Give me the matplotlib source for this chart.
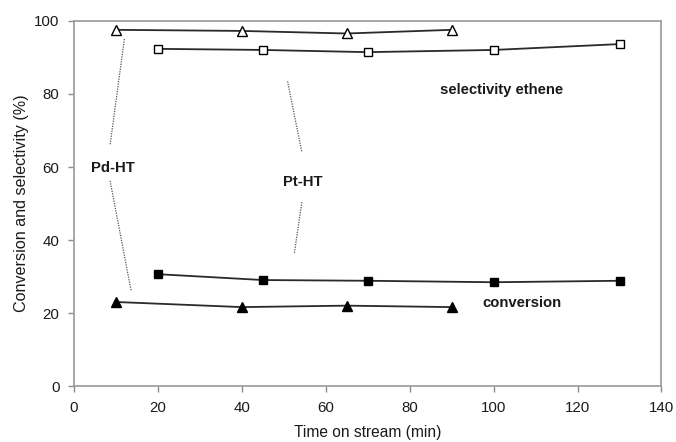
import matplotlib
matplotlib.use("Agg")
import matplotlib.pyplot as plt

# Time on stream (min) and measured values (%)
pd_time = [10, 40, 65, 90]
pd_selectivity = [97.5, 97.2, 96.5, 97.5]
pd_conversion = [23.1, 21.7, 22.1, 21.7]

pt_time = [20, 45, 70, 100, 130]
pt_selectivity = [92.3, 92.0, 91.4, 92.0, 93.6]
pt_conversion = [30.7, 29.1, 28.9, 28.5, 28.9]

x_ticks = [0, 20, 40, 60, 80, 100, 120, 140]
y_ticks = [0, 20, 40, 60, 80, 100]

plt.rcParams["font.family"] = ["Liberation Sans", "DejaVu Sans"]

fig = plt.figure(figsize=(6.76, 4.42), dpi=100)
ax = fig.add_axes([0.1095, 0.1256, 0.869, 0.8276])

line_kw = dict(color="#2a2a2a", lw=1.3, zorder=3)
ax.plot(pd_time, pd_selectivity, marker="^", ms=7, mfc="white", mec="black",
        mew=1.0, **line_kw)
ax.plot(pt_time, pt_selectivity, marker="s", ms=6, mfc="white", mec="black",
        mew=1.0, **line_kw)
ax.plot(pt_time, pt_conversion, marker="s", ms=6, mfc="black", mec="black",
        **line_kw)
ax.plot(pd_time, pd_conversion, marker="^", ms=7, mfc="black", mec="black",
        **line_kw)

# Leader lines from the catalyst labels to their curves
dot_kw = dict(color="#555555", lw=0.9, ls=(0, (1, 1)), zorder=2)
ax.plot([12.0, 8.6], [95.0, 66.1], **dot_kw)
ax.plot([8.6, 13.6], [56.2, 26.2], **dot_kw)
ax.plot([50.9, 54.3], [83.4, 64.0], **dot_kw)
ax.plot([54.3, 52.5], [50.4, 36.4], **dot_kw)

lbl_kw = dict(fontsize=10.7, fontweight="bold", color="#1a1a1a",
              ha="center", va="center")
ax.text(9.2, 59.7, "Pd-HT", **lbl_kw)
ax.text(54.5, 55.8, "Pt-HT", **lbl_kw)
ax.text(101.9, 81.0, "selectivity ethene", **lbl_kw)
ax.text(106.8, 22.7, "conversion", **lbl_kw)

ax.set_xlim(0, 140)
ax.set_ylim(0, 100)
ax.set_xticks(x_ticks)
ax.set_yticks(y_ticks)
ax.tick_params(axis="both", direction="out", length=4.5, width=1.0,
               color="#8a8a8a", labelsize=10.8, labelcolor="#1a1a1a", pad=6)

for side in ["left", "right", "top", "bottom"]:
    ax.spines[side].set_color("#9a9a9a")
    ax.spines[side].set_linewidth(1.2)

ax.set_xlabel("Time on stream (min)", fontsize=11.2, color="#1a1a1a", labelpad=7)
ax.set_ylabel("Conversion and selectivity (%)", fontsize=11.6, color="#1a1a1a",
              labelpad=4)

fig.savefig("out.png", dpi=100)
